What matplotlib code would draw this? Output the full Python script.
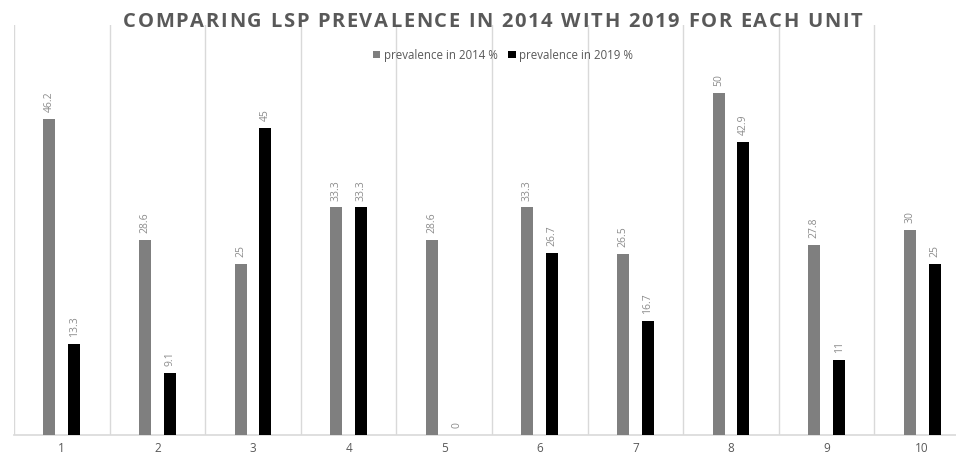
import matplotlib

matplotlib.use("Agg")
import matplotlib.pyplot as plt
import numpy as np

UNITS = ["1", "2", "3", "4", "5", "6", "7", "8", "9", "10"]
PREV_2014 = [46.2, 28.6, 25, 33.3, 28.6, 33.3, 26.5, 50, 27.8, 30]
PREV_2019 = [13.3, 9.1, 45, 33.3, 0, 26.7, 16.7, 42.9, 11, 25]
LABEL_2014 = "prevalence in 2014 %"
LABEL_2019 = "prevalence in 2019 %"
TITLE = "COMPARING LSP PREVALENCE IN 2014 WITH 2019 FOR EACH UNIT"

COLOR_2014 = "#7f7f7f"
COLOR_2019 = "#000000"
COLOR_GRID = "#d9d9d9"
COLOR_TEXT = "#595959"

plt.rcParams["font.family"] = ["Open Sans", "DejaVu Sans"]

W, H = 956, 454


def spaced_text(fig, text, x0, x1, y, **kw):
    """Draw text letter-spaced so it spans pixel columns x0..x1."""
    renderer = fig.canvas.get_renderer()

    def px_width(s):
        t = fig.text(0, 0, s, **kw)
        w = t.get_window_extent(renderer).width
        t.remove()
        return w

    widths = []
    for ch in text:
        if ch == " ":
            widths.append(px_width("A A") - px_width("AA"))
        else:
            widths.append(px_width(ch))
    gap = ((x1 - x0) - sum(widths)) / (len(text) - 1)
    x = x0
    for ch, w in zip(text, widths):
        if ch != " ":
            fig.text(x / W, 1 - y / H, ch, ha="left", va="center", **kw)
        x += w + gap


fig = plt.figure(figsize=(W / 100, H / 100), dpi=100)
fig.patch.set_facecolor("white")

# plot area runs past the right edge, as in the cropped original
ax = fig.add_axes([14 / W, (H - 435) / H, (970 - 14) / W, (435 - 25) / H])

x = np.arange(1, len(UNITS) + 1)
bw = 0.125
off = 0.13
b1 = ax.bar(x - off, PREV_2014, width=bw, color=COLOR_2014, label=LABEL_2014, zorder=3)
b2 = ax.bar(x + off, PREV_2019, width=bw, color=COLOR_2019, label=LABEL_2019, zorder=3)

for bars, vals in ((b1, PREV_2014), (b2, PREV_2019)):
    for rect, v in zip(bars, vals):
        ax.annotate(
            f"{v:g}",
            xy=(rect.get_x() + rect.get_width() / 2, v),
            xytext=(0, 5),
            textcoords="offset points",
            rotation=90,
            ha="center",
            va="bottom",
            fontsize=7.5,
            color="#8c8c8c",
        )

ax.set_xlim(0.5, len(UNITS) + 0.5)
ax.set_ylim(0, 60)
ax.set_xticks(x)
ax.set_xticklabels(UNITS, fontsize=8.5, color=COLOR_TEXT)
ax.set_xticks(np.arange(0.5, len(UNITS) + 1, 1), minor=True)
ax.tick_params(axis="x", which="both", length=0, pad=5)
ax.set_yticks([])
ax.grid(True, which="minor", axis="x", color=COLOR_GRID, linewidth=1, zorder=0)
for s in ("top", "right", "left"):
    ax.spines[s].set_visible(False)
ax.spines["bottom"].set_color(COLOR_GRID)
ax.spines["bottom"].set_linewidth(1.2)

spaced_text(fig, TITLE, 123, 862, 22, fontsize=14.5, fontweight="bold", color=COLOR_TEXT)

fig.legend(
    loc="center",
    bbox_to_anchor=(503 / W, 1 - 55 / H),
    ncol=2,
    frameon=False,
    fontsize=8.3,
    handlelength=0.65,
    handleheight=0.65,
    handletextpad=0.3,
    columnspacing=0.9,
    labelcolor=COLOR_TEXT,
)

fig.savefig("out.png", dpi=100, facecolor="white")
